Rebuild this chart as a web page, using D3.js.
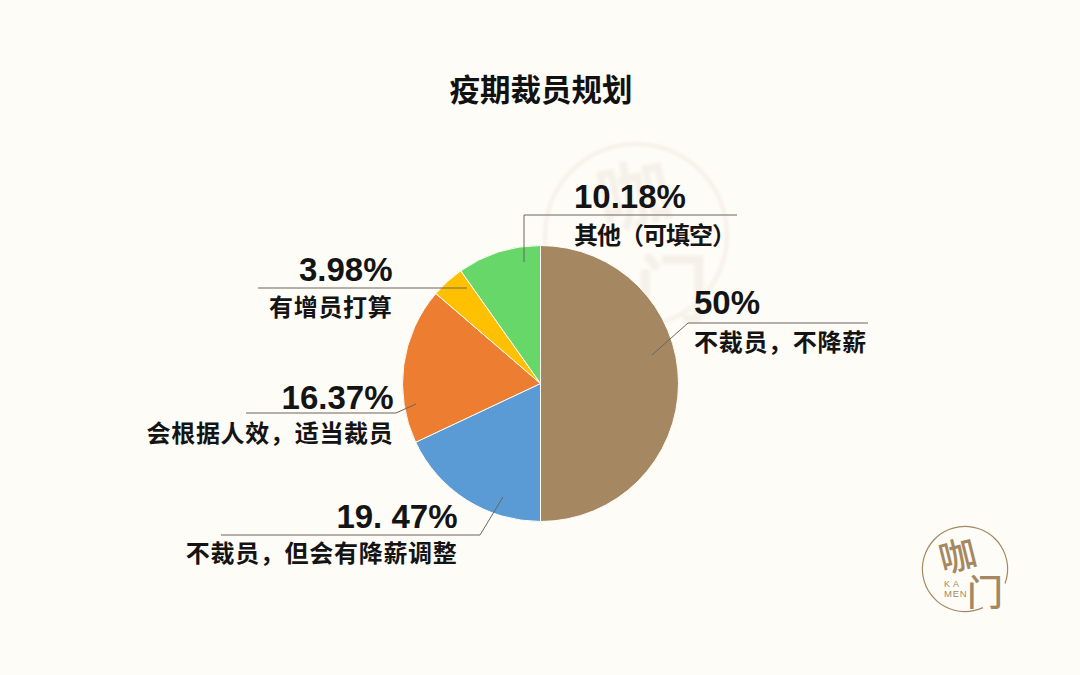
<!DOCTYPE html>
<html><head><meta charset="utf-8">
<style>html,body{margin:0;padding:0;background:#fefcf7}svg{display:block}</style>
<script src="https://cdn.jsdelivr.net/npm/d3@7/dist/d3.min.js"></script></head>
<body><svg id="c" width="1080" height="675"></svg>
<script>
const categories=["不裁员，不降薪","不裁员，但会有降薪调整","会根据人效，适当裁员","有增员打算","其他（可填空）"];
// printed labels
const valueLabels=["50%","19. 47%","16.37%","3.98%","10.18%"];
// slice shares (the drawn angles differ from the printed labels)
const sliceShares=[50,18.0,18.3,3.9,9.8];
const colors=["#a58862","#5b9bd5","#ed7d31","#ffc000","#66d768"];
const chartTitle="疫期裁员规划";

// annotation layout, one row per category
const layout=[
 {anchor:"start",x:694,ny:314,ly:351,sp:0.7,line:[[868,323],[688,323],[652,355]]},
 {anchor:"end",x:457.5,ny:528,ly:562,sp:0.7,line:[[221,535],[480,535],[503,497]]},
 {anchor:"end",x:393.5,ny:409,ly:442,sp:0.7,line:[[246,413],[396,413],[416,404]]},
 {anchor:"end",x:392.5,ny:281,ly:316,sp:0.7,line:[[258,288],[467,288]]},
 {anchor:"start",x:574,ny:208,ly:244,sp:-1,line:[[737,215],[524,215],[524,262]]}
];
const svg=d3.select("#c");
const W=1080,H=675;
const cjk="'Noto Sans CJK SC',sans-serif", latin="'Liberation Sans',Arial,sans-serif";
svg.append("rect").attr("width",W).attr("height",H).attr("fill","#fefcf7");
const defs=svg.append("defs");
defs.append("filter").attr("id","soft").append("feGaussianBlur").attr("stdDeviation",1.8);

// watermark
const wm=svg.append("g").attr("filter","url(#soft)");
wm.append("circle").attr("cx",636).attr("cy",235).attr("r",91).attr("fill","none").attr("stroke","#f5f1ea").attr("stroke-width",4);
wm.append("text").attr("transform","translate(640,222) rotate(-12)").attr("text-anchor","middle").attr("font-family",cjk).attr("font-weight",700).attr("font-size",74).attr("fill","#f5f1ea").text("咖");
wm.append("text").attr("x",672).attr("y",316).attr("text-anchor","middle").attr("font-family",cjk).attr("font-weight",700).attr("font-size",74).attr("fill","#f5f1ea").text("门");

// title
svg.append("text").attr("x",541).attr("y",101).attr("text-anchor","middle")
 .attr("font-family",cjk).attr("font-weight",700).attr("font-size",30.5).attr("fill","#111").text(chartTitle);

// pie
const cx=540.5,cy=383.5,R=138;
const pie=d3.pie().sort(null).value(d=>d)(sliceShares);
const arc=d3.arc().innerRadius(0).outerRadius(R);
svg.append("g").attr("transform",`translate(${cx},${cy})`).selectAll("path").data(pie).join("path")
 .attr("d",arc).attr("fill",(d,i)=>colors[i]).attr("stroke","#fefcf7").attr("stroke-width",1);

// annotations
const line=d3.line();
const ann=svg.append("g").selectAll("g").data(categories).join("g");
ann.append("path").attr("d",(d,i)=>line(layout[i].line)).attr("fill","none").attr("stroke","#6b655c").attr("stroke-width",1);
ann.append("text").attr("x",(d,i)=>layout[i].x).attr("y",(d,i)=>layout[i].ny).attr("text-anchor",(d,i)=>layout[i].anchor)
 .attr("font-family",latin).attr("font-weight",700).attr("font-size",33).attr("fill","#141414").text((d,i)=>valueLabels[i]);
ann.append("text").attr("x",(d,i)=>layout[i].x).attr("y",(d,i)=>layout[i].ly).attr("text-anchor",(d,i)=>layout[i].anchor)
 .attr("letter-spacing",(d,i)=>layout[i].sp)
 .attr("font-family",cjk).attr("font-weight",700).attr("font-size",24).attr("fill","#141414").text(d=>d);

// logo
const deg=Math.PI/180;
const lg=svg.append("g");
lg.append("path").attr("d",d3.arc().innerRadius(42).outerRadius(43.2).startAngle(155*deg).endAngle(470*deg)())
 .attr("transform","translate(965,569)").attr("fill","#a58862");
lg.append("text").attr("transform","translate(961,569) rotate(-14)").attr("text-anchor","middle").attr("font-family",cjk).attr("font-weight",500).attr("font-size",37).attr("fill","#a58862").text("咖");
lg.append("text").attr("x",985).attr("y",606).attr("text-anchor","middle").attr("font-family",cjk).attr("font-weight",500).attr("font-size",36).attr("fill","#a58862").text("门");
lg.append("text").attr("x",944).attr("y",587).attr("font-family",latin).attr("font-size",9).attr("letter-spacing",3).attr("fill","#a58862").text("KA");
lg.append("text").attr("x",944).attr("y",597).attr("font-family",latin).attr("font-size",9.5).attr("letter-spacing",0.8).attr("fill","#a58862").text("MEN");
</script></body></html>
